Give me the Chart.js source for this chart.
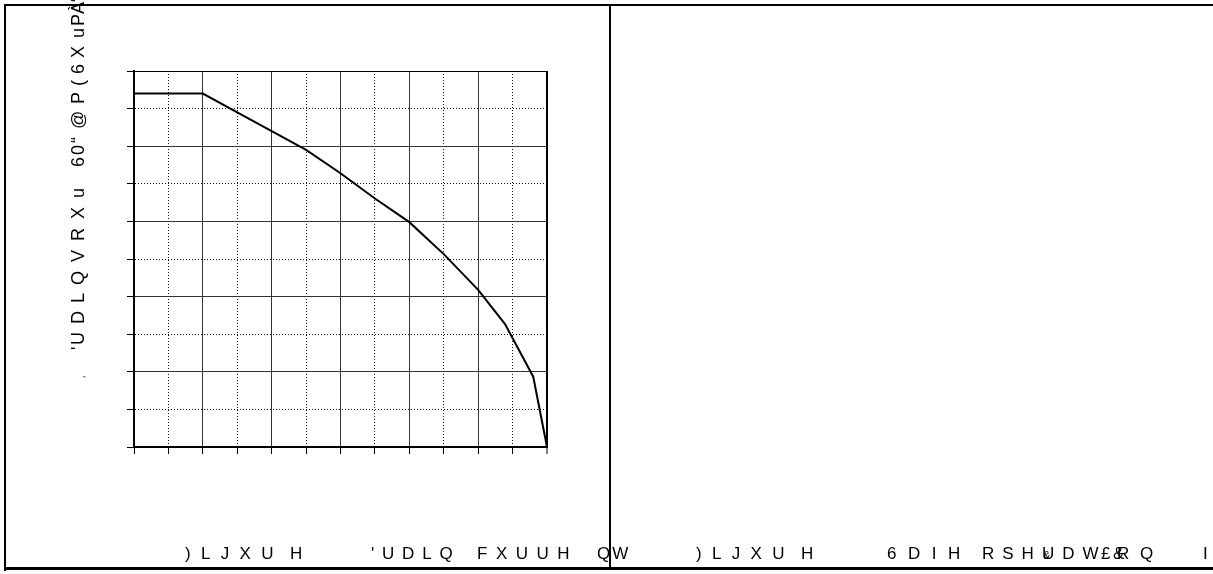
<!DOCTYPE html>
<html><head><meta charset="utf-8">
<script src="https://cdn.jsdelivr.net/npm/chart.js@4.4.0/dist/chart.umd.min.js"></script>
<style>html,body{margin:0;padding:0;background:#fff;overflow:hidden}
#wrap{position:relative;width:1213px;height:574px}</style>
</head><body><div id="wrap"><canvas id="c" width="1213" height="574"></canvas></div>
<script>
// ---- data (in grid units: x 0..12, y 0..10) ----
const xValues = [0, 2, 3, 4, 5, 6, 7, 8, 9, 10, 10.78, 11.6, 12];
const yValues = [9.4, 9.4, 8.9, 8.4, 7.9, 7.28, 6.61, 5.98, 5.13, 4.18, 3.27, 1.87, 0];
const xRange = [0, 12];
const yRange = [0, 10];
// ---- texts (as they appear in the picture) ----
const yTitleRuns = ["'", "UDLQ", "VRXu", "60“", "@", "P(6X", "u", "PÀ“"];
const yTitleMark = "‚";
const captionLeftRuns = [")LJXU", "H", "'UDLQ", "FXUUH", "QW"];
const captionRightRuns = [")LJXU", "H", "6DIH", "RSHUDW", "£", "R", "&", "Q", "I", "&"];

const FONT = '"Liberation Sans", Arial, sans-serif';

function spaced(ctx, text, x, y, spacing) {
  for (const ch of text) {
    ctx.fillText(ch, x, y);
    x += ctx.measureText(ch).width + spacing;
  }
}

const decor = {
  id: 'decor',
  afterDraw(chart) {
    const ctx = chart.ctx;
    ctx.save();
    ctx.fillStyle = '#000';
    ctx.textBaseline = 'alphabetic';
    // frame
    ctx.fillRect(4, 4, 1209, 2);
    ctx.fillRect(4, 4, 2, 567);
    ctx.fillRect(4, 567, 1209, 3);
    ctx.fillRect(609, 4, 2, 566);
    // y title (rotated, reading upward); run starts given as screen y
    ctx.save();
    ctx.translate(84, 0);
    ctx.rotate(-Math.PI / 2);
    ctx.font = '18px ' + FONT;
    const yr = [[350, 0], [345, 8], [262, 9], [167, 2], [129, 0], [104, 6], [38, 0], [26, 0]];
    yTitleRuns.forEach((t, i) => spaced(ctx, t, -yr[i][0], 0, yr[i][1]));
    ctx.font = '10px ' + FONT;
    ctx.fillText(yTitleMark, -378, 0);
    ctx.restore();
    // captions
    ctx.font = '17px ' + FONT;
    const L = [[185, 10.3], [290, 0], [371, 7.8], [477, 8.5], [597, 2]];
    captionLeftRuns.forEach((t, i) => spaced(ctx, t, L[i][0], 559, L[i][1]));
    const R = [[696, 10.3], [801, 0], [887, 11.5], [982, 8], [1101, 0], [1117, 0], [1113, 0], [1140, 0], [1203, 0]];
    for (let i = 0; i < R.length; i++) spaced(ctx, captionRightRuns[i], R[i][0], 559, R[i][1]);
    ctx.font = '11px ' + FONT;
    ctx.fillText(captionRightRuns[9], 1043, 559);
    ctx.restore();
  }
};

function isMinor(c) { return c.tick && Math.round(c.tick.value) % 2 === 1; }

function axis(range, lastWide) {
  return {
    type: 'linear', min: range[0], max: range[1],
    ticks: { stepSize: 1, display: false },
    grid: {
      drawTicks: true, tickLength: 7, tickColor: '#000', tickWidth: 1,
      color: c => isMinor(c) ? '#111' : (c.tick && c.tick.value === range[1] ? '#000' : '#333'),
      lineWidth: c => (lastWide && c.tick && c.tick.value === range[1]) ? 2 : 1
    },
    border: { display: true, color: '#000', width: 2,
      dash: c => isMinor(c) ? [1, 2] : [] }
  };
}

new Chart(document.getElementById('c'), {
  type: 'scatter',
  data: { datasets: [{
    data: xValues.map((x, i) => ({ x: x, y: yValues[i] })),
    showLine: true, borderColor: '#000', borderWidth: 2, pointRadius: 0, tension: 0, clip: false
  }]},
  options: {
    responsive: false, animation: false, events: [],
    layout: { padding: { left: 127, right: 666, top: 71, bottom: 120 } },
    plugins: { legend: { display: false }, tooltip: { enabled: false }, title: { display: false } },
    scales: { x: axis(xRange, true), y: axis(yRange, false) }
  },
  plugins: [decor]
});
</script></body></html>
